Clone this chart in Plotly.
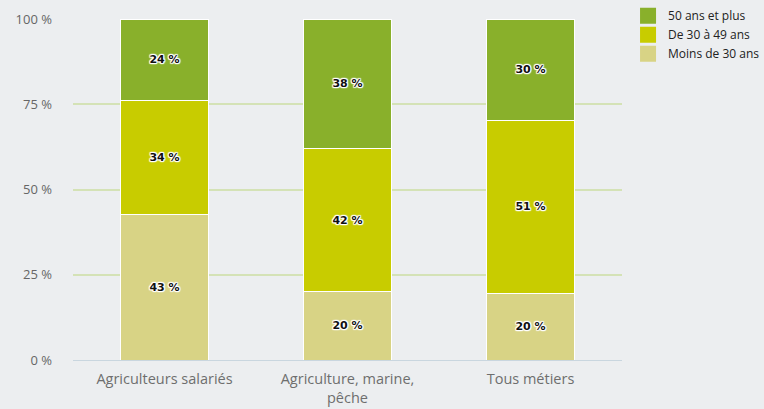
import plotly.graph_objects as go

categories = ["Agriculteurs salariés", "Agriculture, marine,<br>pêche", "Tous métiers"]
series_names = ["Moins de 30 ans", "De 30 à 49 ans", "50 ans et plus"]
moins_30 = [42.6, 20.0, 19.6]
de_30_49 = [33.6, 42.0, 50.6]
plus_50 = [23.8, 38.0, 29.8]
y_ticks = [0, 25, 50, 75, 100]
y_tick_text = ["0 %", "25 %", "50 %", "75 %", "100 %"]

colors = ["#d8d385", "#c8cc00", "#89b02b"]
series = [moins_30, de_30_49, plus_50]

fig = go.Figure()
for name, vals, col in zip(series_names, series, colors):
    fig.add_trace(go.Bar(
        x=categories, y=vals, name=name, showlegend=False,
        marker=dict(color=col, line=dict(color="white", width=1)),
        text=[f"{round(v)} %" for v in vals],
        textposition="inside", insidetextanchor="middle",
        textangle=0,
        textfont=dict(family="DejaVu Sans", size=11, color="#111",
                      weight="bold",
                      shadow="1px 0 1px #fff, -1px 0 1px #fff, 0 1px 1px #fff, 0 -1px 1px #fff, 1px 1px 1px #fff, -1px -1px 1px #fff, 1px -1px 1px #fff, -1px 1px 1px #fff"),
        width=0.48,
        hoverinfo="skip",
    ))
# legend entries (larger square swatches), top to bottom
for name, col in zip(series_names, colors):
    fig.add_trace(go.Scatter(
        x=[None], y=[None], mode="markers", name=name,
        marker=dict(symbol="square", size=18, color=col),
        hoverinfo="skip",
    ))

fig.update_layout(
    barmode="stack",
    width=764, height=409,
    margin=dict(l=73, r=142, t=19, b=49, autoexpand=False),
    paper_bgcolor="#eceef0",
    plot_bgcolor="#eceef0",
    font=dict(family="Open Sans, DejaVu Sans", color="#666", size=13),
    showlegend=True,
    legend=dict(
        traceorder="reversed",
        x=1.011, xanchor="left", y=1.052, yanchor="top",
        font=dict(size=12, color="#222"),
        bgcolor="rgba(0,0,0,0)",
        tracegroupgap=0, itemwidth=30,
    ),
    xaxis=dict(showgrid=False, showline=True, linecolor="#c9d6df", linewidth=1,
               tickfont=dict(size=14.5, color="#6e6e6e"), ticks="", ticklabelstandoff=6,
               automargin=False),
    yaxis=dict(range=[0, 100], tickvals=y_ticks, ticktext=y_tick_text,
               showgrid=True, gridcolor="#d4e2b6", gridwidth=2,
               zeroline=False, showline=False,
               tickfont=dict(size=13, color="#666"), ticklabelstandoff=20,
               automargin=False),
)

fig.write_html(
    "out.html",
    config={"displayModeBar": False},
    post_script="document.body.style.margin='0';document.body.style.background='#eceef0';",
)
